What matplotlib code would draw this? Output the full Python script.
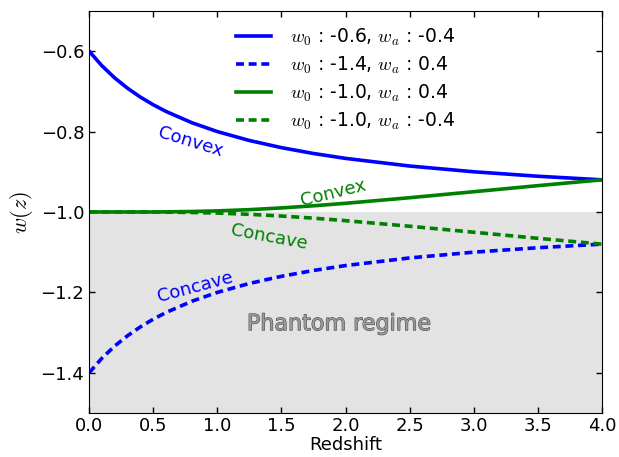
import matplotlib
matplotlib.use("Agg")
import matplotlib.pyplot as plt
import matplotlib.patheffects as pe

# Redshift sample points
z = [0.0, 0.1, 0.2, 0.3, 0.4, 0.5, 0.6, 0.8, 1.0, 1.25, 1.5, 1.75, 2.0, 2.5, 3.0, 3.5, 4.0]

w_blue_solid = [-0.6, -0.6364, -0.6667, -0.6923, -0.7143, -0.7333, -0.75, -0.7778, -0.8,
                -0.8222, -0.84, -0.8545, -0.8667, -0.8857, -0.9, -0.9111, -0.92]
w_blue_dashed = [-1.4, -1.3636, -1.3333, -1.3077, -1.2857, -1.2667, -1.25, -1.2222, -1.2,
                 -1.1778, -1.16, -1.1455, -1.1333, -1.1143, -1.1, -1.0889, -1.08]
w_green_solid = [-1.0, -1.0, -1.0, -1.0, -1.0, -1.0, -0.9997, -0.9988, -0.9973,
                 -0.9942, -0.9899, -0.9846, -0.9784, -0.9645, -0.9496, -0.9345, -0.92]
w_green_dashed = [-1.0, -1.0, -1.0, -1.0, -1.0, -1.0, -1.0003, -1.0012, -1.0027,
                  -1.0058, -1.0101, -1.0154, -1.0216, -1.0355, -1.0504, -1.0655, -1.08]

labels = [r"$w_0$ : -0.6, $w_a$ : -0.4",
          r"$w_0$ : -1.4, $w_a$ : 0.4",
          r"$w_0$ : -1.0, $w_a$ : 0.4",
          r"$w_0$ : -1.0, $w_a$ : -0.4"]

xticks = [0.0, 0.5, 1.0, 1.5, 2.0, 2.5, 3.0, 3.5, 4.0]
yticks = [-1.4, -1.2, -1.0, -0.8, -0.6]

plt.rcParams['font.family'] = ['DejaVu Sans']
plt.rcParams['mathtext.fontset'] = 'cm'

fig = plt.figure(figsize=(6.19, 4.57), dpi=100)
ax = fig.add_axes([0.144, 0.0963, 0.8285, 0.8797])

ax.axhspan(-1.5, -1.0, color='0.89', zorder=0, lw=0)

dash = (2.2, 1.3)
ax.plot(z, w_blue_solid, color='blue', lw=2.6, label=labels[0])
ax.plot(z, w_blue_dashed, color='blue', lw=2.6, ls='--', dashes=dash, label=labels[1])
ax.plot(z, w_green_solid, color='green', lw=2.6, label=labels[2])
ax.plot(z, w_green_dashed, color='green', lw=2.6, ls='--', dashes=dash, label=labels[3])

ax.set_xlim(0, 4)
ax.set_ylim(-1.5, -0.5)
ax.set_xticks(xticks)
ax.set_yticks(yticks)
ax.tick_params(direction='in', top=True, right=True, labelsize=13, length=4, width=1)
ax.tick_params(axis='x', pad=3)
ax.set_xlabel("Redshift", fontsize=13, labelpad=0.5)
ax.set_ylabel(r"$w(z)$", fontsize=16)

ax.text(0.79, -0.825, "Convex", color='blue', fontsize=13, rotation=-17,
        ha='center', va='center')
ax.text(0.83, -1.188, "Concave", color='blue', fontsize=13, rotation=15,
        ha='center', va='center')
ax.text(1.9, -0.953, "Convex", color='green', fontsize=13, rotation=14,
        ha='center', va='center')
ax.text(1.4, -1.062, "Concave", color='green', fontsize=13, rotation=-10.5,
        ha='center', va='center')
ax.text(1.95, -1.279, "Phantom regime", color='0.6', fontsize=16,
        ha='center', va='center',
        path_effects=[pe.Stroke(linewidth=0.8, foreground='0.3'), pe.Normal()])

ax.legend(loc='upper center', frameon=False, fontsize=13.5, handlelength=1.85,
          handletextpad=1.0, labelspacing=0.36, borderaxespad=0.45)

fig.savefig("out.png", dpi=100)
